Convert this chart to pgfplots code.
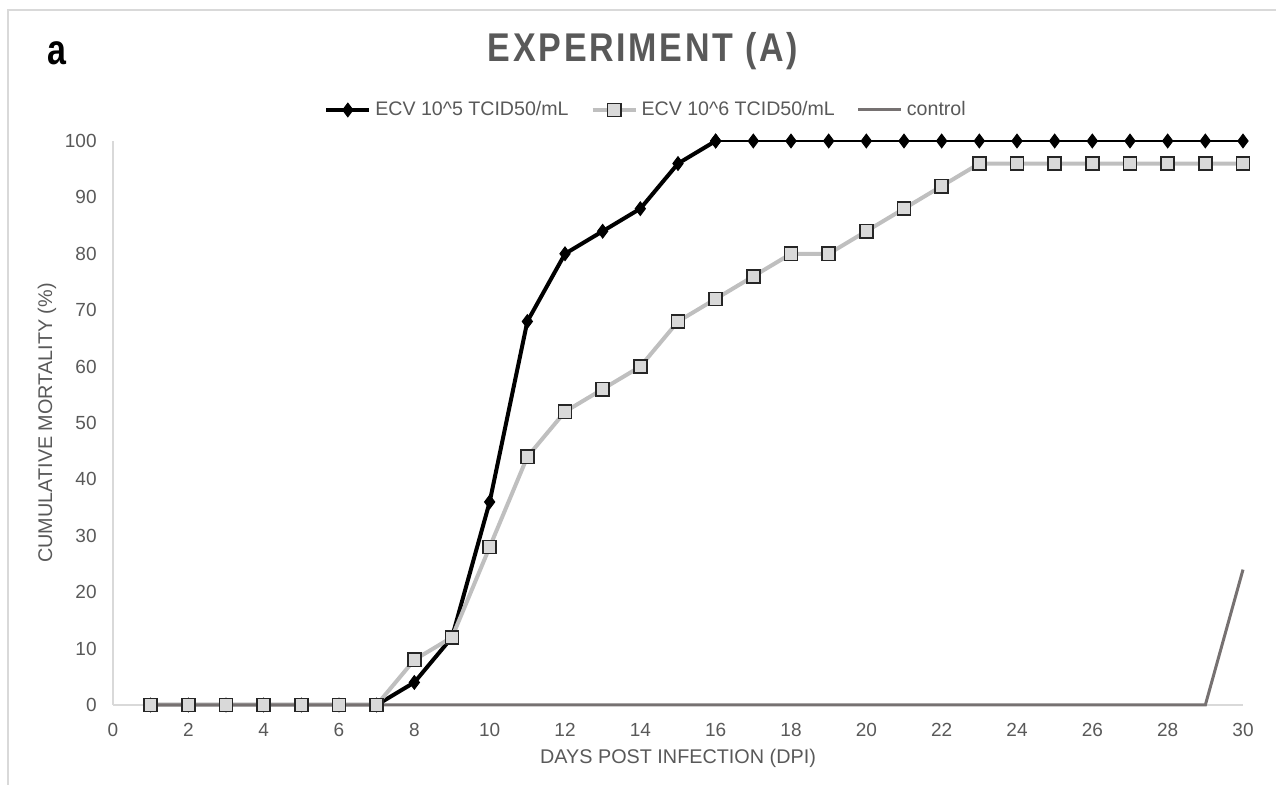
\documentclass[border=0pt]{standalone}
\usepackage{fontspec}
\setmainfont{Liberation Sans}
\newfontfamily\titlefont[LetterSpace=8]{Liberation Sans}
\usepackage{pgfplots}
\pgfplotsset{compat=1.18}

\definecolor{txt}{HTML}{595959}
\definecolor{framec}{HTML}{D9D9D9}
\definecolor{lgray}{HTML}{BFBFBF}
\definecolor{sqfill}{HTML}{D9D9D9}
\definecolor{ctrl}{HTML}{767171}

\begin{document}
\begin{tikzpicture}
\useasboundingbox (0,0) rectangle (638pt,392.5pt);
\draw[framec, line width=0.75pt] (4pt,0) -- (4pt,387.5pt) -- (638pt,387.5pt);

\node[font=\fontsize{17}{20}\selectfont\titlefont\bfseries, text=txt]
  at (321.5pt,367pt) {\scalebox{1}[1.18]{EXPERIMENT (A)}};
\node[font=\fontsize{17}{20}\selectfont\bfseries]
  at (28.5pt,366pt) {\scalebox{1}[1.25]{a}};

\begin{axis}[
  at={(56.5pt,40pt)}, anchor=south west,
  scale only axis, width=565pt, height=282pt,
  xmin=0, xmax=30, ymin=0, ymax=100,
  xtick={0,2,...,30}, ytick={0,10,...,100},
  axis x line*=bottom, axis y line*=left,
  axis line style={draw=framec, line width=0.6pt, -},
  major tick length=0pt,
  clip=false,
  /pgf/number format/assume math mode=true,
  tick label style={font=\fontsize{9.5}{11}\selectfont, text=txt},
  yticklabel style={inner sep=0pt, anchor=east, xshift=-8pt},
  xticklabel style={inner sep=0pt, anchor=north, yshift=-9pt},
  xlabel={DAYS POST INFECTION (DPI)},
  ylabel={CUMULATIVE MORTALITY (\%)},
  label style={font=\fontsize{9.9}{11}\selectfont, text=txt},
  xlabel style={at={(axis description cs:0.5,0)}, anchor=center, yshift=-26.5pt},
  ylabel style={at={(axis description cs:-0.0584,0.5)}, anchor=center},
  legend columns=3,
  legend style={at={(axis description cs:0.4726,1)}, anchor=center, yshift=15.5pt,
    draw=none, fill=none, font=\fontsize{9.8}{11}\selectfont, text=txt,
    /tikz/every even column/.append style={column sep=9pt},
    inner sep=0pt},
  legend image code/.code={\draw[mark repeat=2,mark phase=2]
    plot coordinates {(0pt,0pt) (10.75pt,0pt) (21.5pt,0pt)};},
]

% ECV 10^5, rising part
\addplot[black, line width=2pt, mark=diamond*, mark size=3.4pt,
  mark options={line width=0.5pt, fill=black}] coordinates {
  (1,0) (2,0) (3,0) (4,0) (5,0) (6,0) (7,0) (8,4) (9,12) (10,36)
  (11,68) (12,80) (13,84) (14,88) (15,96) (16,100)
};
\addlegendentry{ECV 10\textasciicircum5 TCID50/mL}

% ECV 10^6
\addplot[lgray, line width=2pt, mark=square*, mark size=3.3pt,
  mark options={draw=black!85, fill=sqfill, line width=0.8pt}] coordinates {
  (1,0) (2,0) (3,0) (4,0) (5,0) (6,0) (7,0) (8,8) (9,12) (10,28)
  (11,44) (12,52) (13,56) (14,60) (15,68) (16,72) (17,76) (18,80)
  (19,80) (20,84) (21,88) (22,92) (23,96) (24,96) (25,96) (26,96)
  (27,96) (28,96) (29,96) (30,96)
};
\addlegendentry{ECV 10\textasciicircum6 TCID50/mL}

% control
\addplot[ctrl, line width=1.5pt, no marks] coordinates {
  (1,0) (2,0) (3,0) (4,0) (5,0) (6,0) (7,0) (8,0) (9,0) (10,0)
  (11,0) (12,0) (13,0) (14,0) (15,0) (16,0) (17,0) (18,0) (19,0)
  (20,0) (21,0) (22,0) (23,0) (24,0) (25,0) (26,0) (27,0) (28,0)
  (29,0) (30,24)
};
\addlegendentry{control}

% ECV 10^5, plateau (thinner line)
\addplot[black, line width=1pt, mark=diamond*, mark size=3.4pt,
  mark options={line width=0.5pt, fill=black}, forget plot] coordinates {
  (16,100) (17,100) (18,100) (19,100) (20,100) (21,100) (22,100)
  (23,100) (24,100) (25,100) (26,100) (27,100) (28,100) (29,100) (30,100)
};
\end{axis}
\end{tikzpicture}
\end{document}
